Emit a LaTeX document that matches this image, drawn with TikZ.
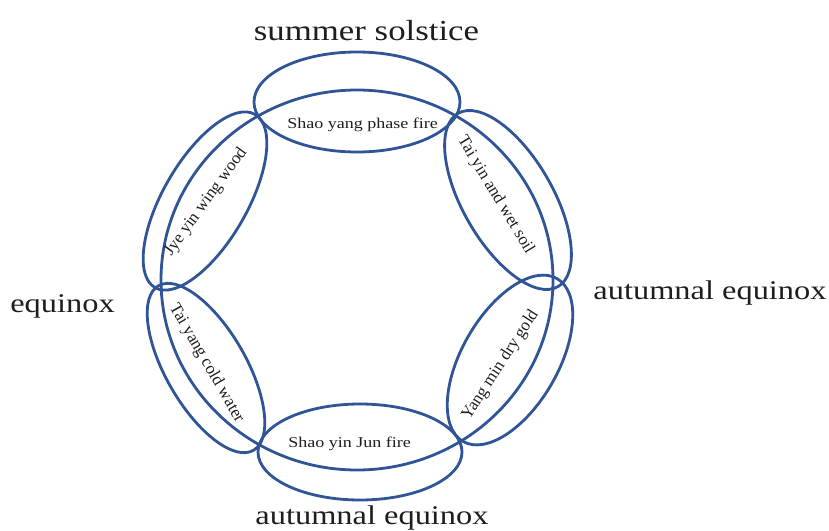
\documentclass[tikz,border=0pt]{standalone}
\usepackage{fontspec}
\setmainfont{Liberation Serif}
\usetikzlibrary{shapes.geometric}
\definecolor{ringblue}{RGB}{47,85,151}
\definecolor{txt}{RGB}{30,30,30}
\begin{document}
\begin{tikzpicture}[x=1pt,y=1pt,
  petal/.style={ellipse, draw=ringblue, line width=2.8pt, inner sep=0pt, outer sep=0pt},
  small/.style={font=\fontsize{15}{17}\selectfont, inner sep=0pt, text=txt},
  tilt/.style={font=\fontsize{17}{19}\selectfont, inner sep=0pt, text=txt},
  big/.style={font=\fontsize{27}{30}\selectfont, inner sep=0pt, text=txt, anchor=base}]
\useasboundingbox (0,0) rectangle (829,-530);
% ring
\node[petal, minimum width=392pt, minimum height=380pt] (ring) at (357,-280) {};
% petals
\node[petal, minimum width=206pt, minimum height=100pt] (top) at (357,-102) {};
\node[petal, minimum width=204pt, minimum height=96pt] (bot) at (360,-452) {};
\node[petal, minimum width=200pt, minimum height=84pt, rotate=60] (lu) at (205,-201) {};
\node[petal, minimum width=200pt, minimum height=90pt, rotate=-60] (ru) at (508,-200) {};
\node[petal, minimum width=190pt, minimum height=80pt, rotate=-60] (ll) at (206,-368) {};
\node[petal, minimum width=188pt, minimum height=96pt, rotate=60] (rl) at (510,-360) {};
% labels in petals
\node[small, anchor=base] (ltop) at (362.5,-128) {\scalebox{1.2}[1]{Shao yang phase fire}};
\node[small, anchor=base] (lbot) at (349.5,-447) {\scalebox{1.2}[1]{Shao yin Jun fire}};
\node[tilt, rotate=54] (llu) at (206,-202) {Jye yin wing wood};
\node[tilt, rotate=-59] (lru) at (495.5,-195) {Tai yin and wet soil};
\node[tilt, rotate=-60] (lll) at (206.5,-363.5) {Tai yang cold water};
\node[tilt, rotate=57] (lrl) at (500.5,-365) {Yang min dry gold};
% season labels
\node[big, font=\fontsize{29}{32}\selectfont] (ss) at (366.5,-40) {\scalebox{1.2}[1]{summer solstice}};
\node[big] (eq) at (62.5,-312) {\scalebox{1.2}[1]{equinox}};
\node[big] (ae1) at (710,-299) {\scalebox{1.2}[1]{autumnal equinox}};
\node[big] (ae2) at (372,-524) {\scalebox{1.2}[1]{autumnal equinox}};
\end{tikzpicture}
\end{document}
